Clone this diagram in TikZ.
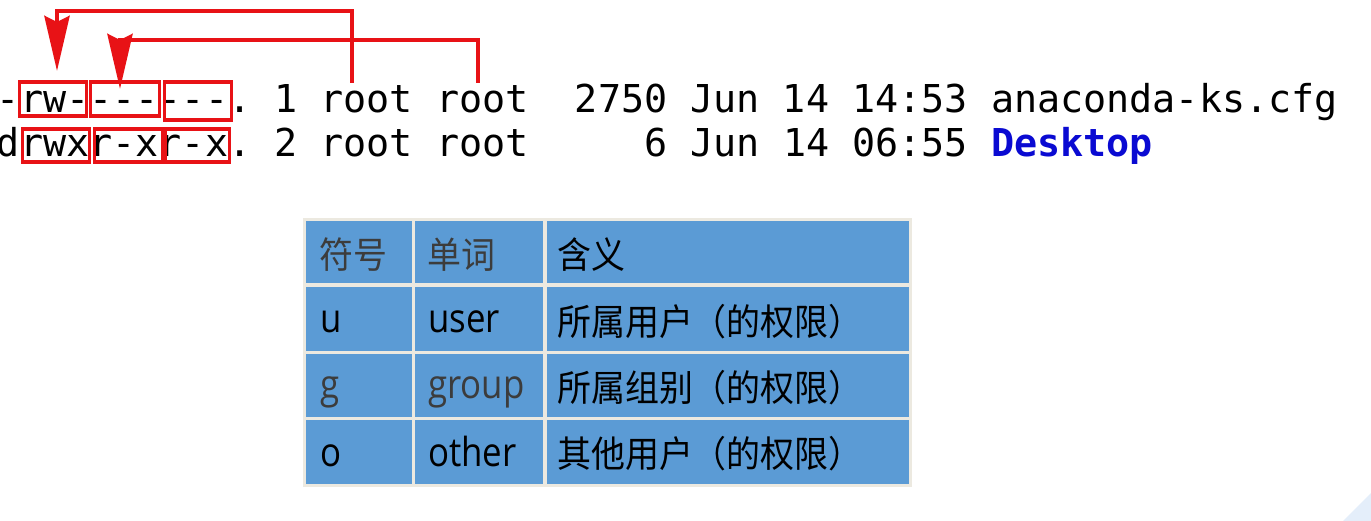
\documentclass[tikz,border=0pt]{standalone}
\usepackage{fontspec}
\usetikzlibrary{arrows.meta}
\newfontfamily\termfont{DejaVu Sans Mono}
\newfontfamily\cjkfont[FakeStretch=0.93]{Noto Sans CJK SC}
\newfontfamily\latfont[FakeStretch=0.87]{Open Sans}
\definecolor{redline}{RGB}{232,18,22}
\definecolor{cellblue}{RGB}{91,155,213}
\definecolor{gridbeige}{RGB}{236,233,224}
\definecolor{dirblue}{RGB}{10,10,210}
\definecolor{darkgraytext}{RGB}{60,60,60}
\definecolor{cornerblue}{RGB}{228,238,250}
\tikzset{
  termline/.style={anchor=base west, inner sep=0pt, outer sep=0pt,
    font=\termfont\fontsize{38.4}{40}\selectfont\frenchspacing},
  permbox/.style={draw=redline, line width=3.6pt, inner sep=0pt, outer sep=0pt, anchor=north west},
  conn/.style={draw=redline, line width=4.8pt, line join=miter,
    -{Stealth[length=55pt, width=25pt, inset=6pt]}},
  cell/.style={fill=cellblue, draw=none, inner sep=0pt, outer sep=0pt, anchor=north west},
  cjktext/.style={anchor=base west, inner sep=0pt, font=\cjkfont\fontsize{36.5}{40}\selectfont},
  lattext/.style={anchor=base west, inner sep=0pt, font=\latfont\fontsize{40}{44}\selectfont},
}
\begin{document}
\begin{tikzpicture}[x=1pt, y=-1pt]
\useasboundingbox (0,0) rectangle (1371,521);
\fill[white] (0,0) rectangle (1371,521);
\fill[cornerblue] (1343,521) -- (1371,493) -- (1371,521) -- cycle;

% terminal lines
\node[termline] (line1) at (-3,113) {-rw-------. 1 root root\ \ 2750 Jun 14 14:53 anaconda-ks.cfg};
\node[termline] (line2) at (-3,157) {drwxr-xr-x. 2 root root\ \ \ \ \ 6 Jun 14 06:55 {\bfseries\color{dirblue}Desktop}};

% permission boxes, line 1
\node[permbox, minimum width=67pt, minimum height=34pt] (u1) at (19.5,82) {};
\node[permbox, minimum width=69pt, minimum height=34pt] (g1) at (90.5,82) {};
\node[permbox, minimum width=67pt, minimum height=38pt] (o1) at (164.5,82) {};
% permission boxes, line 2
\node[permbox, minimum width=67pt, minimum height=33pt] (u2) at (22.5,129) {};
\node[permbox, minimum width=68pt, minimum height=33pt] (g2) at (94.5,129) {};
\node[permbox, minimum width=64pt, minimum height=33pt] (o2) at (165.5,129) {};

% connectors
\coordinate (own) at (352,83);
\coordinate (grp) at (478,83);
\coordinate (tipu) at (57,71);
\coordinate (tipg) at (120,89);
\draw[conn] (own) -- ++(0,-72) -| (tipu);
\draw[conn] (grp) -- ++(0,-43) -| (tipg);

% table
\fill[gridbeige] (303,218) rectangle (912,487);
\node[cell, minimum width=106pt, minimum height=62pt] (c11) at (306,221) {};
\node[cell, minimum width=128pt, minimum height=62pt] (c12) at (415,221) {};
\node[cell, minimum width=362pt, minimum height=62pt] (c13) at (547,221) {};
\node[cell, minimum width=106pt, minimum height=64pt] (c21) at (306,287) {};
\node[cell, minimum width=128pt, minimum height=64pt] (c22) at (415,287) {};
\node[cell, minimum width=362pt, minimum height=64pt] (c23) at (547,287) {};
\node[cell, minimum width=106pt, minimum height=63pt] (c31) at (306,354) {};
\node[cell, minimum width=128pt, minimum height=63pt] (c32) at (415,354) {};
\node[cell, minimum width=362pt, minimum height=63pt] (c33) at (547,354) {};
\node[cell, minimum width=106pt, minimum height=64pt] (c41) at (306,420) {};
\node[cell, minimum width=128pt, minimum height=64pt] (c42) at (415,420) {};
\node[cell, minimum width=362pt, minimum height=64pt] (c43) at (547,420) {};

\node[cjktext, text=darkgraytext] (h1) at (319,269) {符号};
\node[cjktext, text=darkgraytext] (h2) at (427,269) {单词};
\node[cjktext, text=black] (h3) at (557,269) {含义};

\node[lattext, text=black] (r1a) at (320,333) {u};
\node[lattext, text=black] (r1b) at (428,333) {user};
\node[cjktext, text=black] (r1c) at (557,335) {所属用户（的权限）};

\node[lattext, text=darkgraytext] (r2a) at (320,398) {g};
\node[lattext, text=darkgraytext] (r2b) at (428,398) {group};
\node[cjktext, text=black] (r2c) at (557,401) {所属组别（的权限）};

\node[lattext, text=black] (r3a) at (320,466) {o};
\node[lattext, text=black] (r3b) at (428,466) {other};
\node[cjktext, text=black] (r3c) at (557,467) {其他用户（的权限）};
\end{tikzpicture}
\end{document}
